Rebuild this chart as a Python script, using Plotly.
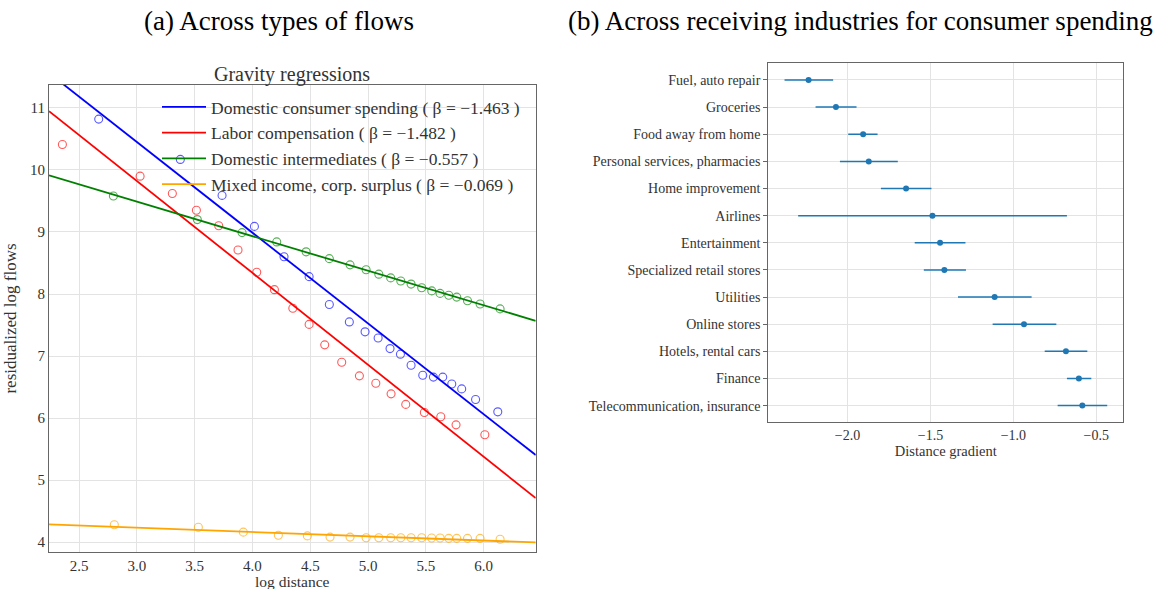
import plotly.graph_objects as go

# ---------------- Data: panel (a) ----------------
blue_x = [2.67, 3.376, 3.737, 4.017, 4.273, 4.49, 4.665, 4.838, 4.974, 5.087, 5.19, 5.28, 5.372, 5.473, 5.565, 5.646, 5.724, 5.81, 5.93, 6.122]
blue_y = [10.82, 10.17, 9.59, 9.09, 8.60, 8.28, 7.83, 7.55, 7.39, 7.29, 7.12, 7.03, 6.85, 6.69, 6.66, 6.66, 6.55, 6.47, 6.30, 6.10]

red_x = [2.356, 3.028, 3.307, 3.515, 3.708, 3.875, 4.037, 4.19, 4.349, 4.49, 4.625, 4.772, 4.925, 5.067, 5.199, 5.326, 5.487, 5.629, 5.761, 6.01]
red_y = [10.41, 9.90, 9.62, 9.35, 9.10, 8.71, 8.35, 8.07, 7.77, 7.51, 7.18, 6.90, 6.68, 6.56, 6.39, 6.22, 6.09, 6.02, 5.89, 5.73]

green_x = [2.797, 3.523, 3.91, 4.21, 4.464, 4.665, 4.844, 4.983, 5.093, 5.196, 5.283, 5.372, 5.464, 5.551, 5.623, 5.698, 5.767, 5.86, 5.969, 6.142]
green_y = [9.58, 9.20, 8.99, 8.84, 8.68, 8.57, 8.47, 8.39, 8.32, 8.26, 8.21, 8.16, 8.10, 8.05, 8.01, 7.98, 7.95, 7.89, 7.84, 7.76]

orange_x = [2.805, 3.532, 3.921, 4.224, 4.475, 4.671, 4.844, 4.983, 5.093, 5.196, 5.283, 5.372, 5.464, 5.55, 5.623, 5.698, 5.767, 5.86, 5.969, 6.142]
orange_y = [4.28, 4.24, 4.16, 4.11, 4.10, 4.08, 4.08, 4.07, 4.07, 4.07, 4.07, 4.07, 4.07, 4.065, 4.065, 4.06, 4.06, 4.06, 4.06, 4.045]

series_names = [
    "Domestic consumer spending ( β = −1.463 )",
    "Labor compensation ( β = −1.482 )",
    "Domestic intermediates ( β = −0.557 )",
    "Mixed income, corp. surplus ( β = −0.069 )",
]
slopes = [-1.463, -1.482, -0.557, -0.069]
intercepts = [14.84, 14.268, 11.16, 4.439]
colors = ["#0000ff", "#ff0000", "#008000", "#ffa500"]
fit_x = [2.24, 6.45]

# ---------------- Data: panel (b) ----------------
industries = ["Fuel, auto repair", "Groceries", "Food away from home", "Personal services, pharmacies",
              "Home improvement", "Airlines", "Entertainment", "Specialized retail stores", "Utilities",
              "Online stores", "Hotels, rental cars", "Finance", "Telecommunication, insurance"]
gradient = [-2.235, -2.07, -1.906, -1.872, -1.647, -1.488, -1.442, -1.416, -1.113, -0.936, -0.683, -0.605, -0.584]
ci_low = [-2.38, -2.193, -1.996, -2.046, -1.799, -2.298, -1.595, -1.54, -1.334, -1.125, -0.811, -0.677, -0.733]
ci_high = [-2.087, -1.946, -1.819, -1.697, -1.494, -0.677, -1.289, -1.286, -0.89, -0.741, -0.554, -0.530, -0.434]

FONT = "Liberation Serif"
W, H = 1156, 589

fig = go.Figure()

scatter_sets = [(blue_x, blue_y), (red_x, red_y), (green_x, green_y), (orange_x, orange_y)]
for (sx, sy), c in zip(scatter_sets, colors):
    fig.add_trace(go.Scatter(x=sx, y=sy, mode="markers", showlegend=False,
                             marker=dict(symbol="circle-open", size=8, color=c, opacity=0.65,
                                         line=dict(width=1.1)),
                             xaxis="x", yaxis="y"))

for name, b, a, c in zip(series_names, slopes, intercepts, colors):
    fy = [a + b * v for v in fit_x]
    fig.add_trace(go.Scatter(x=fit_x, y=fy, mode="lines", name=name,
                             line=dict(color=c, width=1.8), xaxis="x", yaxis="y"))

err_plus = [h - g for h, g in zip(ci_high, gradient)]
err_minus = [g - l for g, l in zip(gradient, ci_low)]
fig.add_trace(go.Scatter(x=gradient, y=industries, mode="markers", showlegend=False,
                         marker=dict(color="#1f77b4", size=6),
                         error_x=dict(type="data", array=err_plus, arrayminus=err_minus,
                                      color="#1f77b4", thickness=1.5, width=0),
                         xaxis="x2", yaxis="y2"))

axis_common = dict(showgrid=True, gridcolor="#e3e3e3", gridwidth=1, zeroline=False,
                   showline=True, linecolor="#666666", linewidth=1.2, mirror=True)
tf_left = dict(family=FONT, size=15, color="#333333")
tf_right = dict(family=FONT, size=14, color="#333333")

fig.update_layout(
    width=W, height=H,
    margin=dict(l=0, r=0, t=0, b=0, autoexpand=False),
    paper_bgcolor="white", plot_bgcolor="white",
    font=dict(family=FONT, color="#333333"),
    xaxis=dict(domain=[49 / W, 535.7 / W], range=[2.24, 6.45], anchor="y",
               tickvals=[2.5, 3.0, 3.5, 4.0, 4.5, 5.0, 5.5, 6.0],
               ticktext=["2.5", "3.0", "3.5", "4.0", "4.5", "5.0", "5.5", "6.0"],
               ticks="", tickfont=tf_left,
               **axis_common),
    yaxis=dict(domain=[1 - 552 / H, 1 - 85 / H], range=[3.84, 11.37], anchor="x",
               tickvals=[4, 5, 6, 7, 8, 9, 10, 11], ticks="", tickfont=tf_left,
               title=dict(text="residualized log flows", font=dict(family=FONT, size=17), standoff=8),
               **axis_common),
    xaxis2=dict(domain=[768.3 / W, 1123.3 / W], range=[-2.478, -0.337], anchor="y2",
                tickvals=[-2.0, -1.5, -1.0, -0.5], ticktext=["−2.0", "−1.5", "−1.0", "−0.5"],
                ticks="", tickfont=tf_right,
                title=dict(text="Distance gradient", font=dict(family=FONT, size=14.5), standoff=3),
                **axis_common),
    yaxis2=dict(domain=[1 - 422.3 / H, 1 - 63.3 / H], anchor="x2",
                type="category", categoryorder="array", categoryarray=industries,
                range=[len(industries) - 1 + 0.615, -0.615],
                ticks="outside", ticklen=4, tickcolor="#666666", tickfont=tf_right,
                **axis_common),
    legend=dict(x=157 / W, y=1 - 89 / H, xanchor="left", yanchor="top",
                bgcolor="rgba(255,255,255,0)", borderwidth=0, itemwidth=44,
                font=dict(family=FONT, size=17.5, color="#333333"), tracegroupgap=0),
    annotations=[
        dict(text="(a) Across types of flows", x=142 / W, y=1 - 21 / H, xref="paper", yref="paper",
             xanchor="left", yanchor="middle",
             showarrow=False, font=dict(family=FONT, size=27, color="#000000")),
        dict(text="(b) Across receiving industries for consumer spending", x=860 / W, y=1 - 21 / H,
             xref="paper", yref="paper", xanchor="center", yanchor="middle",
             showarrow=False, font=dict(family=FONT, size=27, color="#000000")),
        dict(text="Gravity regressions", x=292 / W, y=1 - 75 / H, xref="paper", yref="paper",
             xanchor="center", yanchor="middle",
             showarrow=False, font=dict(family=FONT, size=20, color="#333333")),
        dict(text="log distance", x=292 / W, y=0, xref="paper", yref="paper",
             xanchor="center", yanchor="bottom", borderpad=0, yshift=-2,
             showarrow=False, font=dict(family=FONT, size=15.5, color="#333333")),
    ],
)

fig.write_html("out.html", config={"displayModeBar": False},
               post_script="document.body.style.margin='0px';")
